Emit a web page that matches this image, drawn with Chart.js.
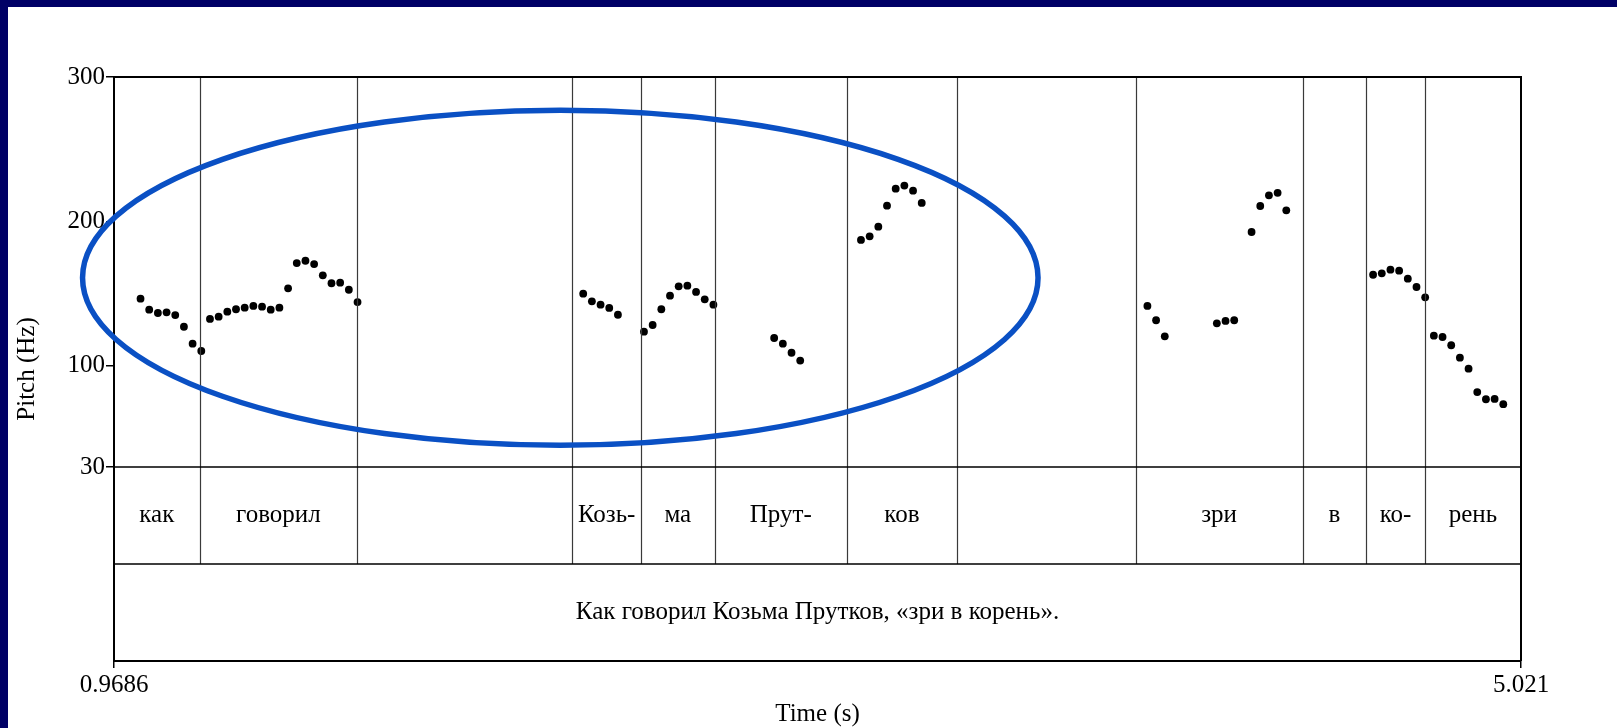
<!DOCTYPE html>
<html><head><meta charset="utf-8">
<script src="https://cdn.jsdelivr.net/npm/chart.js@4.4.0/dist/chart.umd.min.js"></script>
<style>
html,body{margin:0;padding:0;background:#fff;width:1617px;height:728px;overflow:hidden;}
#navyTop{position:absolute;left:0;top:0;width:1617px;height:7px;background:#000066;}
#navyLeft{position:absolute;left:0;top:0;width:8px;height:728px;background:#000066;}
#wrap{position:absolute;left:8px;top:7px;width:1609px;height:721px;}
</style></head><body>
<div id="navyTop"></div><div id="navyLeft"></div>
<div id="wrap"><canvas id="c"></canvas></div>
<script>
// ---- data ----
const pointTimes = [
  1.045,1.070,1.095,1.120,1.145,1.170,1.195,1.220,1.245,1.270,1.295,1.320,1.345,1.370,1.395,1.420,1.445,1.470,1.495,1.520,1.545,1.570,1.595,1.620,1.645,1.670,
  2.320,2.345,2.370,2.395,2.420,2.495,2.520,2.545,2.570,2.595,2.620,2.645,2.670,2.695,
  2.870,2.895,2.920,2.945,
  3.120,3.145,3.170,3.195,3.220,3.245,3.270,3.295,
  3.945,3.970,3.995,4.145,4.170,4.195,4.245,4.270,4.295,4.320,4.345,
  4.595,4.620,4.645,4.670,4.695,4.720,4.745,4.770,4.795,4.820,4.845,4.870,4.895,4.920,4.945,4.970
];
const pointPitch = [
  146.5,138.9,136.6,137.1,135.2,127.1,115.4,110.3,132.5,134.1,137.5,139.2,140.3,141.5,141.0,138.9,140.3,153.7,171.2,172.8,170.5,162.7,157.2,157.6,152.7,144.2,
  150.0,144.7,142.4,140.1,135.4,123.7,128.3,139.2,148.6,155.1,155.5,151.2,146.1,142.4,
  119.3,115.4,109.1,103.7,
  187.2,189.7,196.4,210.9,222.7,224.8,221.3,212.8,
  141.5,131.6,120.5,129.5,131.1,131.6,192.7,210.7,218.1,219.8,207.7,
  163.1,164.1,166.6,165.9,160.4,154.6,147.5,120.9,120.0,114.3,105.7,98.1,81.9,76.9,77.1,73.5
];
const boundaryTimes = [1.215,1.669,2.289,2.486,2.699,3.079,3.397,3.911,4.392,4.575,4.744];
const syllables = ['как','говорил','','Козь-','ма','Прут-','ков','','зри','в','ко-','рень'];
const sentence = 'Как говорил Козьма Прутков, «зри в корень».';
const pitchTicks = [30,100,200,300];
const timeRange = [0.9686, 5.021];
const timeTickLabels = ['0.9686','5.021'];
const yTitle = 'Pitch (Hz)';
const xTitle = 'Time (s)';
// highlight ellipse (centre time, centre pitch, half-width s, half-height Hz)
const ellipseCentre = [2.254, 161];
const ellipseRadii = [1.376, 116];

const FONT = "'Liberation Serif','Times New Roman',serif";
const FSIZE = 25;

const tierPlugin = {
  id: 'tiers',
  afterDraw(chart) {
    const {ctx, scales} = chart;
    const x = scales.x, y = scales.y, t = scales.tier;
    const yTop = y.top, ySep1 = y.bottom, ySep2 = t.getPixelForValue(1), yBot = t.bottom;
    ctx.save();
    // boundaries
    ctx.strokeStyle = '#3a3a3a'; ctx.lineWidth = 1.2;
    boundaryTimes.forEach(b => {
      const px = Math.round(x.getPixelForValue(b)) + 0.5;
      ctx.beginPath(); ctx.moveTo(px, yTop); ctx.lineTo(px, ySep2); ctx.stroke();
    });
    // frame & separators
    ctx.strokeStyle = '#000'; ctx.lineWidth = 2;
    ctx.beginPath();
    ctx.moveTo(x.left, yTop); ctx.lineTo(x.right, yTop); ctx.lineTo(x.right, yBot);
    ctx.stroke();
    ctx.lineWidth = 1.5;
    ctx.beginPath();
    ctx.moveTo(x.left, ySep1); ctx.lineTo(x.right, ySep1);
    ctx.moveTo(x.left, ySep2); ctx.lineTo(x.right, ySep2);
    ctx.stroke();
    // texts
    ctx.fillStyle = '#000'; ctx.textAlign = 'center'; ctx.textBaseline = 'middle';
    ctx.font = FSIZE + 'px ' + FONT;
    const edges = [timeRange[0], ...boundaryTimes, timeRange[1]];
    const ty1 = t.getPixelForValue(1.5);
    syllables.forEach((s, i) => {
      if (!s) return;
      const cx = (x.getPixelForValue(edges[i]) + x.getPixelForValue(edges[i+1])) / 2;
      ctx.fillText(s, cx, ty1);
    });
    ctx.fillText(sentence, (x.left + x.right) / 2, t.getPixelForValue(0.5));
    // axis titles
    ctx.fillText(xTitle, (x.left + x.right) / 2, x.bottom - 14);
    ctx.save();
    ctx.translate(19, (yTop + yBot) / 2);
    ctx.rotate(-Math.PI / 2);
    ctx.fillText(yTitle, 0, 0);
    ctx.restore();
    // ellipse
    const ex = x.getPixelForValue(ellipseCentre[0]);
    const ey = y.getPixelForValue(ellipseCentre[1]);
    const rx = x.getPixelForValue(ellipseCentre[0] + ellipseRadii[0]) - ex;
    const ry = ey - y.getPixelForValue(ellipseCentre[1] + ellipseRadii[1]);
    ctx.strokeStyle = '#0a50c4'; ctx.lineWidth = 5.5;
    ctx.beginPath(); ctx.ellipse(ex, ey, rx, ry, 0, 0, Math.PI * 2); ctx.stroke();
    ctx.restore();
  }
};

new Chart(document.getElementById('c'), {
  type: 'scatter',
  data: {
    datasets: [{
      data: pointTimes.map((tt, i) => ({x: tt, y: pointPitch[i]})),
      backgroundColor: '#000', borderWidth: 0, pointRadius: 3.9, pointHoverRadius: 3.9
    }]
  },
  options: {
    responsive: true, maintainAspectRatio: false, animation: false,
    events: [],
    layout: {padding: {left: 0, top: 70, right: 96, bottom: 0}},
    plugins: {legend: {display: false}, tooltip: {enabled: false}},
    scales: {
      x: {
        type: 'linear', position: 'bottom', min: timeRange[0], max: timeRange[1],
        afterBuildTicks: s => { s.ticks = timeRange.map(v => ({value: v})); },
        afterFit: s => { s.height = 67; },
        ticks: {callback: (v, i) => timeTickLabels[i], autoSkip: false, maxRotation: 0, padding: 2,
                color: '#000', font: {family: FONT, size: FSIZE}},
        grid: {drawOnChartArea: false, drawTicks: true, tickLength: 7, color: '#000', lineWidth: 1.5},
        border: {display: true, color: '#000', width: 2}
      },
      y: {
        type: 'linear', position: 'left', stack: 'v', stackWeight: 390, weight: 1,
        min: 30, max: 300,
        afterBuildTicks: s => { s.ticks = pitchTicks.map(v => ({value: v})); },
        afterFit: s => { s.width = 106; },
        ticks: {color: '#000', padding: 1, font: {family: FONT, size: FSIZE}},
        grid: {drawOnChartArea: false, drawTicks: true, tickLength: 8, color: '#000', lineWidth: 1.5},
        border: {display: true, color: '#000', width: 2}
      },
      tier: {
        type: 'linear', axis: 'y', position: 'left', stack: 'v', stackWeight: 194, weight: 0,
        min: 0, max: 2,
        afterFit: s => { s.width = 106; },
        ticks: {display: false},
        grid: {display: false, drawTicks: false},
        border: {display: true, color: '#000', width: 2}
      }
    }
  },
  plugins: [tierPlugin]
});
</script>
</body></html>
